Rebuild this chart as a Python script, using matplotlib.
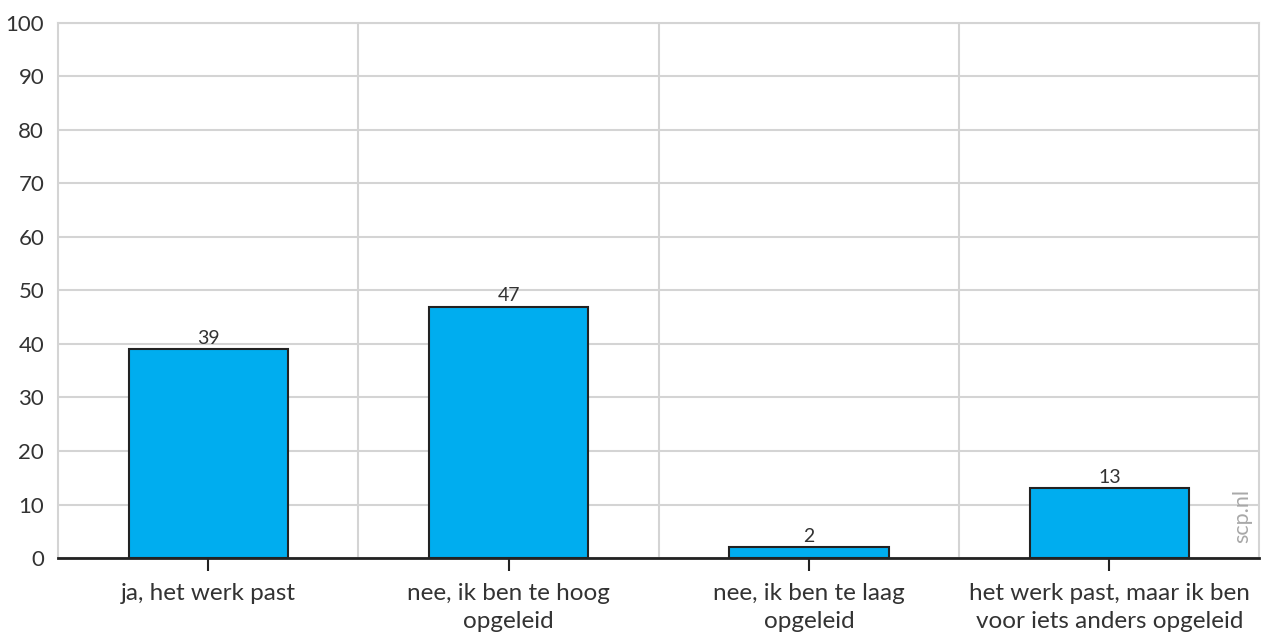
import matplotlib.pyplot as plt
from matplotlib.ticker import FixedLocator

categories = [
    "ja, het werk past",
    "nee, ik ben te hoog\nopgeleid",
    "nee, ik ben te laag\nopgeleid",
    "het werk past, maar ik ben\nvoor iets anders opgeleid",
]
values = [39, 47, 2, 13]
yticks = list(range(0, 101, 10))

plt.rcParams["font.family"] = ["Lato", "DejaVu Sans"]
TEXT = "#333333"
GRID = "#d4d4d4"

fig = plt.figure(figsize=(12.62, 6.37), dpi=100)
ax = fig.add_axes([0.046, 0.124, 0.952, 0.840])

x = list(range(len(categories)))
ax.bar(x, values, width=0.53, color="#00adef", edgecolor="#222222",
       linewidth=1.5, zorder=3)

for xi, v in zip(x, values):
    ax.text(xi, v + 0.5, str(v), ha="center", va="bottom",
            fontsize=14, color=TEXT, zorder=4)

ax.set_xlim(-0.5, len(categories) - 0.5)
ax.set_ylim(0, 100)
ax.set_yticks(yticks)
ax.set_xticks(x)
ax.set_xticklabels(categories, fontsize=17.5, color=TEXT, linespacing=1.4)
ax.xaxis.set_minor_locator(FixedLocator([0.5, 1.5, 2.5]))

ax.tick_params(axis="y", length=0, labelsize=16, labelcolor=TEXT, pad=10)
ax.tick_params(axis="x", which="major", length=9, width=1.5, color="#222222",
               pad=9, direction="out")
ax.tick_params(axis="x", which="minor", length=0)

ax.grid(axis="y", color=GRID, linewidth=1.5, zorder=0)
ax.grid(axis="x", which="minor", color=GRID, linewidth=1.5, zorder=0)
ax.set_axisbelow(True)

for side in ["left", "top", "right"]:
    ax.spines[side].set_color(GRID)
    ax.spines[side].set_linewidth(1.5)
ax.spines["bottom"].set_color("#222222")
ax.spines["bottom"].set_linewidth(2)
ax.spines["bottom"].set_zorder(5)

fig.text(0.9845, 0.190, "scp.nl", rotation=90, ha="center", va="center",
         fontsize=15.5, color="#a8a8a8")

fig.savefig("out.png", dpi=100)
